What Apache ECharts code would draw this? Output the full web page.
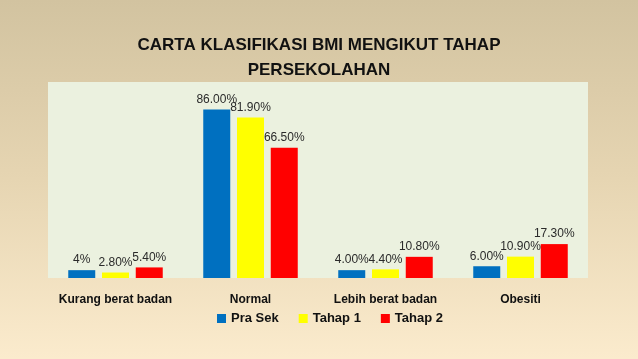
<!DOCTYPE html>
<html>
<head>
<meta charset="utf-8">
<script src="https://cdn.jsdelivr.net/npm/echarts@6/dist/echarts.min.js"></script>
<style>
html,body{margin:0;padding:0;}
#c{width:638px;height:359px;}
</style>
</head>
<body>
<div id="c"></div>
<script>
var categories = ['Kurang berat badan', 'Normal', 'Lebih berat badan', 'Obesiti'];
var seriesNames = ['Pra Sek', 'Tahap 1', 'Tahap 2'];
var praSek = [4, 86, 4, 6];
var tahap1 = [2.8, 81.9, 4.4, 10.9];
var tahap2 = [5.4, 66.5, 10.8, 17.3];
var praSekLabels = ['4%', '86.00%', '4.00%', '6.00%'];
var tahap1Labels = ['2.80%', '81.90%', '4.40%', '10.90%'];
var tahap2Labels = ['5.40%', '66.50%', '10.80%', '17.30%'];

var colors = ['#0070C0', '#FFFF00', '#FF0000'];
var allValues = [praSek, tahap1, tahap2];
var allLabels = [praSekLabels, tahap1Labels, tahap2Labels];

var chart = echarts.init(document.getElementById('c'));
var font = '"Liberation Sans", Arial, sans-serif';

var series = seriesNames.map(function (name, i) {
  return {
    name: name,
    type: 'bar',
    data: allValues[i],
    barWidth: 27,
    barGap: '25%',
    itemStyle: { color: colors[i] },
    label: {
      show: true,
      position: 'top',
      distance: 4,
      fontFamily: font,
      fontSize: 12,
      color: '#2a2a2a',
      formatter: function (p) { return allLabels[i][p.dataIndex]; }
    }
  };
});

chart.setOption({
  backgroundColor: {
    type: 'linear', x: 0, y: 0, x2: 0, y2: 1,
    colorStops: [
      { offset: 0, color: '#D2C3A0' },
      { offset: 0.5, color: '#E6D5B2' },
      { offset: 1, color: '#FBEBCD' }
    ]
  },
  animation: false,
  color: colors,
  title: {
    text: 'CARTA KLASIFIKASI BMI MENGIKUT TAHAP\nPERSEKOLAHAN',
    left: 'center',
    top: 28,
    textStyle: {
      fontFamily: font,
      fontSize: 17,
      fontWeight: 'bold',
      color: '#111111',
      lineHeight: 25
    }
  },
  legend: {
    data: seriesNames,
    left: 212,
    top: 307,
    icon: 'rect',
    itemWidth: 9,
    itemHeight: 9,
    itemGap: 20,
    textStyle: {
      fontFamily: font,
      fontSize: 13,
      fontWeight: 'bold',
      color: '#111111'
    }
  },
  grid: {
    left: 48,
    right: 50,
    top: 82,
    bottom: 81,
    show: true,
    backgroundColor: '#EBF1DF',
    borderWidth: 0
  },
  xAxis: {
    type: 'category',
    data: categories,
    axisLine: { show: false },
    axisTick: { show: false },
    axisLabel: {
      margin: 16,
      fontFamily: font,
      fontSize: 12,
      fontWeight: 'bold',
      color: '#111111',
      interval: 0
    }
  },
  yAxis: {
    type: 'value',
    min: 0,
    max: 100,
    show: false,
    splitLine: { show: false }
  },
  series: series
});
</script>
</body>
</html>
